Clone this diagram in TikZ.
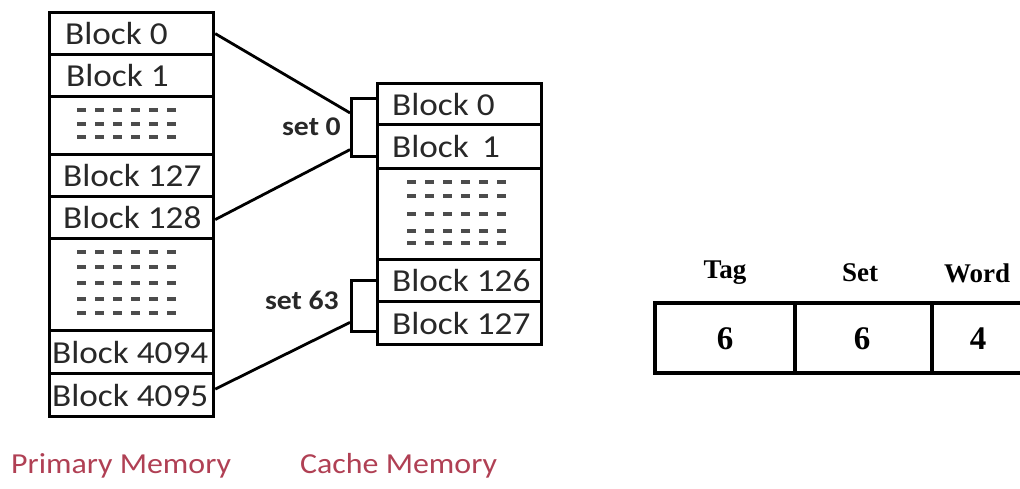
\documentclass[tikz,border=0pt]{standalone}
\usepackage{fontspec}
\newfontfamily\blockfont[FakeStretch=1.1]{Carlito}
\newfontfamily\tablefont{Liberation Serif}
\usetikzlibrary{calc}
\definecolor{memred}{RGB}{176,64,84}
\definecolor{ink}{RGB}{40,40,40}
\tikzset{
  cell/.style={draw, line width=3.2pt, rectangle, inner sep=0pt, anchor=north west, minimum width=164pt},
  btxt/.style={inner sep=0pt, anchor=west, text=ink, font=\blockfont\fontsize{32}{36}\selectfont},
  settxt/.style={inner sep=0pt, anchor=east, text=ink, font=\blockfont\bfseries\fontsize{27}{30}\selectfont},
  setbox/.style={draw, line width=3.2pt, rectangle, inner sep=0pt, anchor=north west, minimum width=26pt},
  link/.style={line width=2.8pt},
  dotrow/.style={draw=black!70, line width=3.4pt, dash pattern=on 9pt off 9pt},
  thead/.style={inner sep=0pt, font=\tablefont\bfseries\fontsize{27}{30}\selectfont},
  tnum/.style={inner sep=0pt, font=\tablefont\bfseries\fontsize{33}{36}\selectfont},
  tline/.style={line width=4.4pt},
  caption/.style={inner sep=0pt, text=memred, font=\blockfont\fontsize{29}{32}\selectfont}
}
\begin{document}
\begin{tikzpicture}[x=1pt, y=-1pt]
\useasboundingbox (0,0) rectangle (1020,488);

% primary memory column
\node[cell, minimum height=42pt] (p0)    at (48,11)  {};
\node[cell, minimum height=42pt] (p1)    at (48,53)  {};
\node[cell, minimum height=58pt] (pd1)   at (48,95)  {};
\node[cell, minimum height=42pt] (p127)  at (48,153) {};
\node[cell, minimum height=42pt] (p128)  at (48,195) {};
\node[cell, minimum height=92pt] (pd2)   at (48,237) {};
\node[cell, minimum height=43pt] (p4094) at (48,329) {};
\node[cell, minimum height=43pt] (p4095) at (48,372) {};

\node[btxt] (p0t)    at ([xshift=17pt]p0.west)    {Block 0};
\node[btxt] (p1t)    at ([xshift=18pt]p1.west)    {Block 1};
\node[btxt] (p127t)  at ([xshift=15pt]p127.west)  {Block 127};
\node[btxt] (p128t)  at ([xshift=15pt]p128.west)  {Block 128};
\node[btxt] (p4094t) at ([xshift=4pt]p4094.west)  {Block 4094};
\node[btxt] (p4095t) at ([xshift=4pt]p4095.west)  {Block 4095};

% dashed filler rows
\foreach \y in {110,124,137} \draw[dotrow] (77,\y) -- (176,\y);
\foreach \y in {252,267,283,299,313} \draw[dotrow] (77,\y) -- (176,\y);

% cache memory column
\node[cell, minimum height=41pt] (c0)   at (376,82)  {};
\node[cell, minimum height=44pt] (c1)   at (376,123) {};
\node[cell, minimum height=91pt] (cd)   at (376,167) {};
\node[cell, minimum height=42pt] (c126) at (376,258) {};
\node[cell, minimum height=43pt] (c127) at (376,300) {};

\node[btxt] (c0t)   at ([xshift=16pt]c0.west)   {Block 0};
\node[btxt] (c1t)   at ([xshift=16pt]c1.west)   {Block \,1};
\node[btxt] (c126t) at ([xshift=16pt]c126.west) {Block 126};
\node[btxt] (c127t) at ([xshift=16pt]c127.west) {Block 127};

\foreach \y in {182,196,214,231,243} \draw[dotrow] (407,\y) -- (506,\y);

% set brackets
\node[setbox, minimum height=58pt] (s0)  at (350,97)  {};
\node[setbox, minimum height=51pt] (s63) at (350,279) {};
\node[settxt] (s0t)  at (341,127) {set 0};
\node[settxt] (s63t) at (339,300) {set 63};

% mapping lines
\draw[link] (p0.east)                 -- ($(s0.north west)!0.26!(s0.south west)$);
\draw[link] ([yshift=-2pt]p128.east)  -- ($(s0.north west)!0.86!(s0.south west)$);
\draw[link] ([yshift=6pt]p4095.east)  -- ($(s63.north west)!0.80!(s63.south west)$);

% address format
\node[thead] (htag)  at (725,273) {Tag};
\node[thead] (hset)  at (860,273) {Set};
\node[thead] (hword) at (977,273) {Word};
\node[tnum] (ftag)  at (725,339) {6};
\node[tnum] (fset)  at (862,339) {6};
\node[tnum] (fword) at (978,339) {4};
\draw[tline] (1020,303) -- (655,303) -- (655,373) -- (1020,373);
\draw[tline] (795,303) -- (795,373);
\draw[tline] (932,303) -- (932,373);

% captions
\node[caption, anchor=west] (pcap) at (11,466) {Primary Memory};
\node[caption, anchor=west] (ccap) at (300,466) {Cache Memory};
\end{tikzpicture}
\end{document}
